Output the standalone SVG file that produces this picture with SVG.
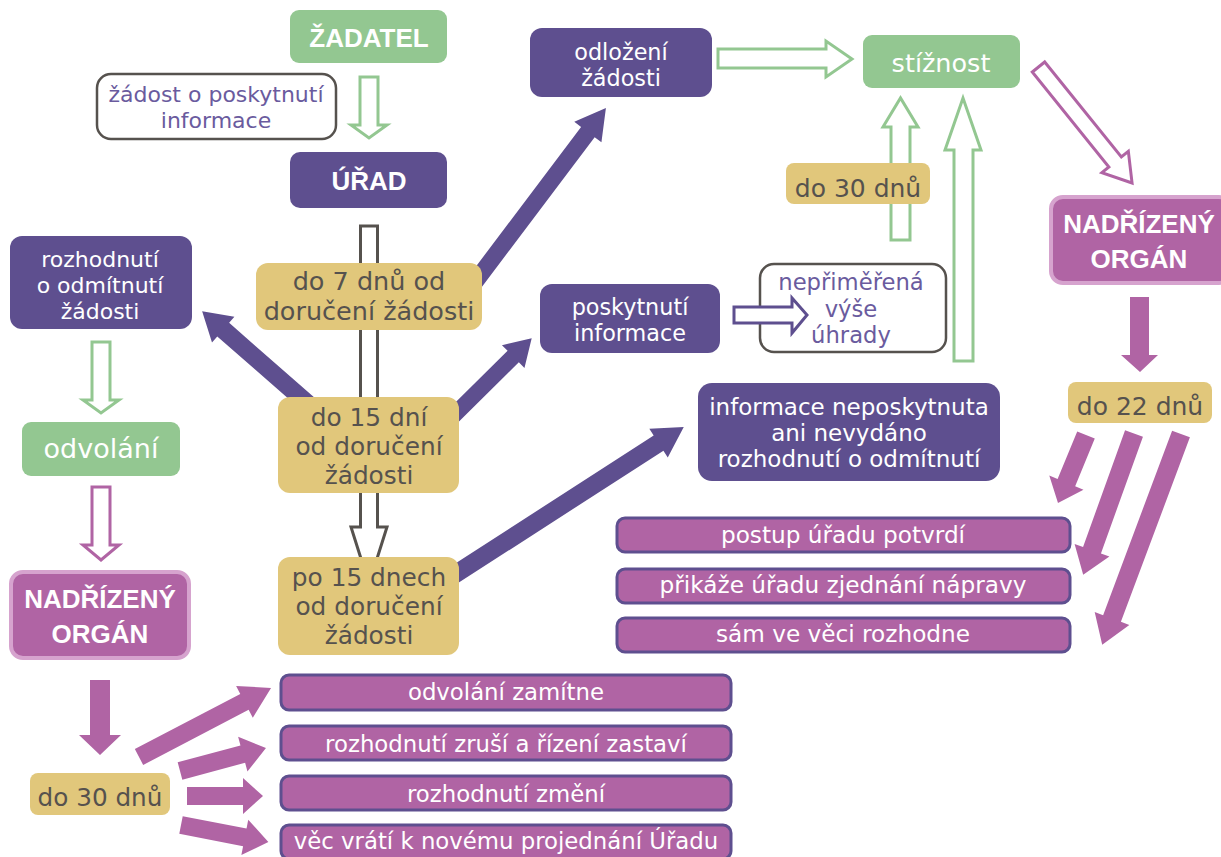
<svg xmlns="http://www.w3.org/2000/svg" width="1221" height="857" viewBox="0 0 1221 857">
<style>
.p{fill:#5E4F8F}
.g{fill:#93C791}
.y{fill:#E1C77B}
.m{fill:#B064A4}
.t{font-family:'DejaVu Sans','Open Sans',sans-serif;text-anchor:middle}
.w{fill:#FFFFFF}
.k{fill:#56524E}
.v{fill:#6A5B9E}
.bd{font-family:'Liberation Sans',Arial,sans-serif;font-weight:bold;font-size:26px}
.wb{fill:#FFFFFF;stroke:#56524E;stroke-width:2.5}
.res{fill:#B064A4;stroke:#5E4F8F;stroke-width:3}
.hg{fill:#FFFFFF;stroke:#93C791;stroke-width:3}
.hm{fill:#FFFFFF;stroke:#B064A4;stroke-width:3}
.hk{fill:#FFFFFF;stroke:#56524E;stroke-width:3}
.hp{fill:#FFFFFF;stroke:#5E4F8F;stroke-width:3}
</style>
<rect width="1221" height="857" fill="#FFFFFF"/>
<g id="neprimerena"><rect class="wb" x="760" y="264" width="186" height="88" rx="14"/><text class="t v" x="851" y="290" font-size="22.7">nepřiměřená</text><text class="t v" x="851" y="317" font-size="22.7">výše</text><text class="t v" x="851" y="343" font-size="22.7">úhrady</text></g>
<g id="connectors">
  <polygon class="hk" points="360.5,226 377.5,226 377.5,527 387,527 369,584 351,527 360.5,527"/>
  <polygon class="hg" points="360,77 378,77 378,125 387,125 369,138 351,125 360,125"/>
  <path class="p" transform="translate(467.5,291.8) rotate(-53)" d="M0,-8.5 H200 V-17 L230,0 L200,17 V8.5 H0 Z"/>
  <path class="p" transform="translate(315,410) rotate(-138.8)" d="M0,-9 H122 V-17 L150,0 L122,17 V9 H0 Z"/>
  <path class="p" transform="translate(440,429) rotate(-44.7)" d="M0,-8 H103 V-16 L129,0 L103,16 V8 H0 Z"/>
  <path class="p" transform="translate(440,584) rotate(-32.8)" d="M0,-9 H260 V-17 L290,0 L260,17 V9 H0 Z"/>
  <polygon class="hg" points="92,342 110,342 110,400 119,400 101,413 83,400 92,400"/>
  <polygon class="hm" points="92,487 110,487 110,545 119,545 101,560 83,545 92,545"/>
  <polygon class="m" points="90,680 110,680 110,735 121,735 100,755 79,735 90,735"/>
  <path class="m" transform="translate(139,757) rotate(-27.6)" d="M0,-9 H119 V-18 L149,0 L119,18 V9 H0 Z"/>
  <path class="m" transform="translate(180,771) rotate(-15)" d="M0,-9 H65 V-18 L89,0 L65,18 V9 H0 Z"/>
  <path class="m" transform="translate(187,796)" d="M0,-9 H56 V-18 L76,0 L56,18 V9 H0 Z"/>
  <path class="m" transform="translate(181,825) rotate(11)" d="M0,-9 H65 V-18 L89,0 L65,18 V9 H0 Z"/>
  <polygon class="hg" points="718,49 826,49 826,41 852,59 826,77 826,68 718,68"/>
  <polygon class="hg" points="891,240 910,240 910,127 918,127 900.5,98 883,127 891,127"/>
  <polygon class="hg" points="954,361 973,361 973,150 981,150 963,98 945,150 954,150"/>
  <polygon class="hp" points="734,307 792,307 792,298 807,315 792,333 792,323 734,323"/>
  <path class="hm" transform="translate(1038.5,67) rotate(51.1)" d="M0,-8 H122 V-17 L149,0 L122,17 V8 H0 Z"/>
  <polygon class="m" points="1130,297 1149,297 1149,355 1158,355 1140,372 1121,355 1130,355"/>
  <path class="m" transform="translate(1086,435) rotate(112.4)" d="M0,-9.5 H51.5 V-18.5 L73.5,0 L51.5,18.5 V9.5 H0 Z"/>
  <path class="m" transform="translate(1134,433.5) rotate(109.8)" d="M0,-9.5 H124 V-18.5 L150,0 L124,18.5 V9.5 H0 Z"/>
  <path class="m" transform="translate(1181,434) rotate(110.5)" d="M0,-9.5 H197 V-18.5 L225,0 L197,18.5 V9.5 H0 Z"/>
</g>
<g id="zadatel"><rect class="g" x="290" y="10" width="157" height="53" rx="9"/><text class="t w bd" x="369" y="47">ŽADATEL</text></g>
<g id="zadost"><rect class="wb" x="97" y="74" width="239" height="65" rx="14"/><text class="t v" x="216" y="102" font-size="22">žádost o poskytnutí</text><text class="t v" x="216" y="128" font-size="22">informace</text></g>
<g id="urad"><rect class="p" x="290" y="152" width="157" height="56" rx="10"/><text class="t w bd" x="369" y="190">ÚŘAD</text></g>
<g id="do7"><rect class="y" x="256" y="263" width="226" height="67" rx="12"/><text class="t k" x="369" y="290" font-size="25.5">do 7 dnů od</text><text class="t k" x="369" y="320" font-size="25.5">doručení žádosti</text></g>
<g id="do15"><rect class="y" x="278" y="397" width="181" height="96" rx="12"/><text class="t k" x="369" y="426" font-size="24.8">do 15 dní</text><text class="t k" x="369" y="455" font-size="24.8">od doručení</text><text class="t k" x="369" y="484" font-size="24.8">žádosti</text></g>
<g id="po15"><rect class="y" x="278" y="557" width="181" height="98" rx="12"/><text class="t k" x="369" y="586" font-size="24.8">po 15 dnech</text><text class="t k" x="369" y="615" font-size="24.8">od doručení</text><text class="t k" x="369" y="644" font-size="24.8">žádosti</text></g>
<g id="odmitnuti"><rect class="p" x="10" y="236" width="182" height="93" rx="12"/><text class="t w" x="100" y="267" font-size="22">rozhodnutí</text><text class="t w" x="100" y="293" font-size="22">o odmítnutí</text><text class="t w" x="100" y="319" font-size="22">žádosti</text></g>
<g id="odvolani"><rect class="g" x="22" y="422" width="158" height="54" rx="9"/><text class="t w" x="101" y="458" font-size="27">odvolání</text></g>
<g id="nadrizeny-left"><rect class="m" x="11" y="572" width="178" height="86" rx="12" stroke="#D6A3CE" stroke-width="4"/><text class="t w bd" x="100" y="608">NADŘÍZENÝ</text><text class="t w bd" x="100" y="643">ORGÁN</text></g>
<g id="do30-left"><rect class="y" x="30" y="773" width="140" height="42" rx="8"/><text class="t k" x="100" y="806" font-size="24.7">do 30 dnů</text></g>
<g id="r1"><rect class="res" x="281" y="675" width="450" height="35" rx="8"/><text class="t w" x="506" y="700" font-size="22.8">odvolání zamítne</text></g>
<g id="r2"><rect class="res" x="281" y="726" width="450" height="34" rx="8"/><text class="t w" x="506" y="752" font-size="22.8">rozhodnutí zruší a řízení zastaví</text></g>
<g id="r3"><rect class="res" x="281" y="776" width="450" height="34" rx="8"/><text class="t w" x="506" y="802" font-size="22.8">rozhodnutí změní</text></g>
<g id="r4"><rect class="res" x="281" y="825" width="450" height="34" rx="8" stroke="#2E3A87"/><text class="t w" x="506" y="849" font-size="22.8">věc vrátí k novému projednání Úřadu</text></g>
<g id="odlozeni"><rect class="p" x="530" y="28" width="182" height="69" rx="12"/><text class="t w" x="621" y="60" font-size="22.3">odložení</text><text class="t w" x="621" y="86" font-size="22.3">žádosti</text></g>
<g id="stiznost"><rect class="g" x="863" y="35" width="157" height="53" rx="9"/><text class="t w" x="941" y="72" font-size="25.5">stížnost</text></g>
<g id="do30-right"><rect class="y" x="786" y="163" width="144" height="41" rx="8"/><text class="t k" x="858" y="197" font-size="25">do 30 dnů</text></g>
<g id="poskytnuti"><rect class="p" x="540" y="284" width="180" height="69" rx="12"/><text class="t w" x="630" y="315" font-size="22.3">poskytnutí</text><text class="t w" x="630" y="341" font-size="22.3">informace</text></g>
<g id="nadrizeny-right"><rect class="m" x="1051" y="197" width="180" height="86" rx="12" stroke="#D6A3CE" stroke-width="4"/><text class="t w bd" x="1139" y="233">NADŘÍZENÝ</text><text class="t w bd" x="1139" y="268">ORGÁN</text></g>
<g id="neposkytnuta"><rect class="p" x="698" y="383" width="302" height="98" rx="14"/><text class="t w" x="849" y="415" font-size="23">informace neposkytnuta</text><text class="t w" x="849" y="441" font-size="23">ani nevydáno</text><text class="t w" x="849" y="467" font-size="23">rozhodnutí o odmítnutí</text></g>
<g id="do22"><rect class="y" x="1068" y="382" width="144" height="41" rx="8"/><text class="t k" x="1140" y="415" font-size="25">do 22 dnů</text></g>
<g id="s1"><rect class="res" x="617" y="518" width="453" height="34" rx="8"/><text class="t w" x="843" y="543" font-size="23.2">postup úřadu potvrdí</text></g>
<g id="s2"><rect class="res" x="617" y="569" width="453" height="34" rx="8"/><text class="t w" x="843" y="593" font-size="23.2">přikáže úřadu zjednání nápravy</text></g>
<g id="s3"><rect class="res" x="617" y="618" width="453" height="34" rx="8" stroke="#2E3A87"/><text class="t w" x="843" y="642" font-size="23.2">sám ve věci rozhodne</text></g>
</svg>
